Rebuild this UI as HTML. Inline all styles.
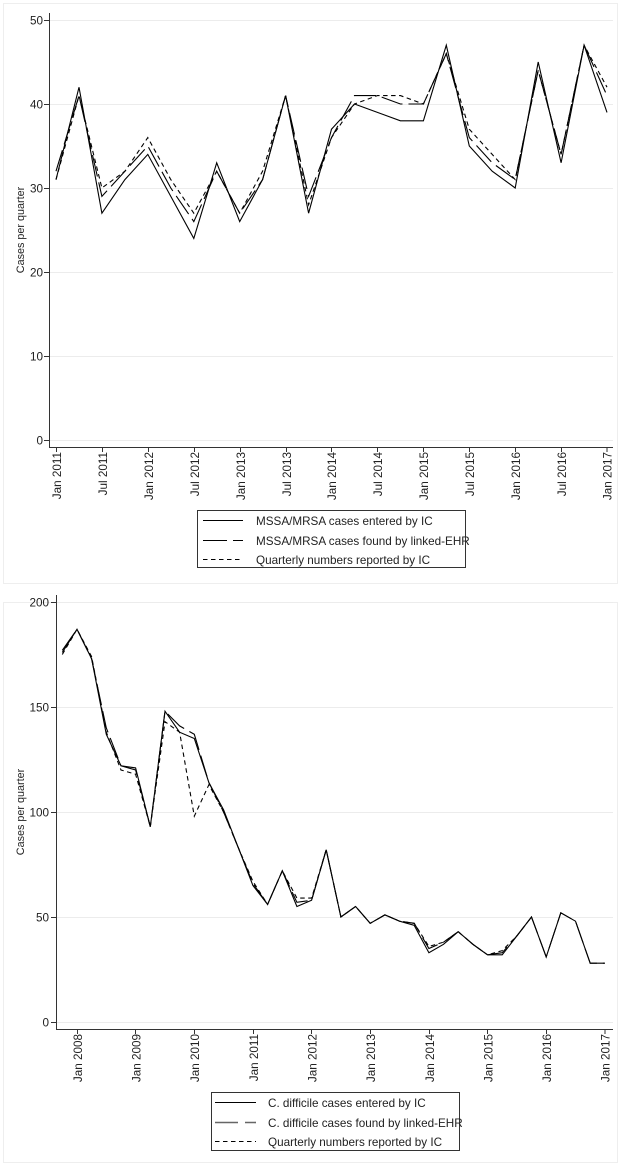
<!DOCTYPE html>
<html>
<head>
<meta charset="utf-8">
<style>
  html,body{margin:0;padding:0;background:#fff;}
  svg{display:block;}
  text{font-family:"Liberation Sans",Arial,sans-serif;fill:#222;}
</style>
</head>
<body>
<svg width="625" height="1167" viewBox="0 0 625 1167" xmlns="http://www.w3.org/2000/svg">
  <rect x="0" y="0" width="625" height="1167" fill="#fff"/>
  <!-- graph region outlines -->
  <rect x="3.5" y="3.5" width="614" height="580" fill="none" stroke="#eeeeee" stroke-width="1"/>
  <rect x="3.5" y="602.5" width="614" height="560" fill="none" stroke="#eeeeee" stroke-width="1"/>

  <!-- ================= TOP CHART ================= -->
  <g>
    <g stroke="#ececec" stroke-width="1">
      <line x1="49" y1="20.5" x2="613" y2="20.5"/>
      <line x1="49" y1="104.5" x2="613" y2="104.5"/>
      <line x1="49" y1="188.5" x2="613" y2="188.5"/>
      <line x1="49" y1="272.5" x2="613" y2="272.5"/>
      <line x1="49" y1="356.5" x2="613" y2="356.5"/>
      <line x1="49" y1="440.5" x2="613" y2="440.5"/>
    </g>
    <g stroke="#333" stroke-width="1">
      <line x1="49.5" y1="13" x2="49.5" y2="447.5"/>
      <line x1="49" y1="447.5" x2="613" y2="447.5"/>
      <line x1="44" y1="20.5" x2="49" y2="20.5"/>
      <line x1="44" y1="104.5" x2="49" y2="104.5"/>
      <line x1="44" y1="188.5" x2="49" y2="188.5"/>
      <line x1="44" y1="272.5" x2="49" y2="272.5"/>
      <line x1="44" y1="356.5" x2="49" y2="356.5"/>
      <line x1="44" y1="440.5" x2="49" y2="440.5"/>
      <line x1="56.5" y1="447" x2="56.5" y2="452"/>
      <line x1="102.5" y1="447" x2="102.5" y2="452"/>
      <line x1="148.5" y1="447" x2="148.5" y2="452"/>
      <line x1="194.5" y1="447" x2="194.5" y2="452"/>
      <line x1="240.5" y1="447" x2="240.5" y2="452"/>
      <line x1="286.5" y1="447" x2="286.5" y2="452"/>
      <line x1="331.5" y1="447" x2="331.5" y2="452"/>
      <line x1="377.5" y1="447" x2="377.5" y2="452"/>
      <line x1="423.5" y1="447" x2="423.5" y2="452"/>
      <line x1="469.5" y1="447" x2="469.5" y2="452"/>
      <line x1="515.5" y1="447" x2="515.5" y2="452"/>
      <line x1="561.5" y1="447" x2="561.5" y2="452"/>
      <line x1="607" y1="447" x2="607" y2="452"/>
    </g>
    <g font-size="11.7" text-anchor="end">
      <text x="43" y="24.7">50</text>
      <text x="43" y="108.7">40</text>
      <text x="43" y="192.7">30</text>
      <text x="43" y="276.7">20</text>
      <text x="43" y="360.7">10</text>
      <text x="43" y="444.7">0</text>
    </g>
    <text font-size="10.8" text-anchor="middle" transform="translate(24,230) rotate(-90)">Cases per quarter</text>
    <g font-size="11.7" text-anchor="end">
      <text transform="translate(61,452) rotate(-90)">Jan 2011</text>
      <text transform="translate(107,452) rotate(-90)">Jul 2011</text>
      <text transform="translate(153,452) rotate(-90)">Jan 2012</text>
      <text transform="translate(199,452) rotate(-90)">Jul 2012</text>
      <text transform="translate(245,452) rotate(-90)">Jan 2013</text>
      <text transform="translate(291,452) rotate(-90)">Jul 2013</text>
      <text transform="translate(336,452) rotate(-90)">Jan 2014</text>
      <text transform="translate(382,452) rotate(-90)">Jul 2014</text>
      <text transform="translate(428,452) rotate(-90)">Jan 2015</text>
      <text transform="translate(474,452) rotate(-90)">Jul 2015</text>
      <text transform="translate(520,452) rotate(-90)">Jan 2016</text>
      <text transform="translate(566,452) rotate(-90)">Jul 2016</text>
      <text transform="translate(611.5,452) rotate(-90)">Jan 2017</text>
    </g>
    <g fill="none" stroke="#000" stroke-width="1.1" stroke-linejoin="miter">
      <polyline points="56,179.6 79,87.2 101.9,213.2 124.9,179.6 147.8,154.4 170.8,196.4 193.8,238.4 216.7,162.8 239.7,221.6 262.6,179.6 285.6,95.6 308.6,213.2 331.5,129.2 354.5,104 377.4,112.4 400.4,120.8 423.4,120.8 446.3,45.2 469.3,146 492.2,171.2 515.2,188 538.2,62 561.1,162.8 584.1,45.2 607,112.4"/>
      <polyline stroke-dasharray="22 6" points="56,171.2 79,95.6 101.9,196.4 124.9,171.2 147.8,146 170.8,188 193.8,221.6 216.7,171.2 239.7,213.2 262.6,179.6 285.6,95.6 308.6,196.4 331.5,137.6 354.5,95.6 377.4,95.6 400.4,104 423.4,104 446.3,53.6 469.3,137.6 492.2,162.8 515.2,179.6 538.2,70.4 561.1,154.4 584.1,45.2 607,95.6"/>
      <polyline stroke-dasharray="4.5 3.5" points="56,179.6 79,95.6 101.9,188 124.9,171.2 147.8,137.6 170.8,179.6 193.8,213.2 216.7,171.2 239.7,213.2 262.6,171.2 285.6,95.6 308.6,204.8 331.5,137.6 354.5,104 377.4,95.6 400.4,95.6 423.4,104 446.3,53.6 469.3,129.2 492.2,154.4 515.2,179.6 538.2,70.4 561.1,154.4 584.1,45.2 607,87.2"/>
    </g>
    <rect x="197.5" y="510.5" width="268" height="57" fill="#fff" stroke="#333" stroke-width="1"/>
    <g stroke="#000" stroke-width="1.1">
      <line x1="203" y1="520.5" x2="243" y2="520.5"/>
      <line x1="203" y1="540.5" x2="243" y2="540.5" stroke-dasharray="24 6"/>
      <line x1="203" y1="559.5" x2="243" y2="559.5" stroke-dasharray="4.5 3.5"/>
    </g>
    <g font-size="11.7">
      <text x="256" y="524.8">MSSA/MRSA cases entered by IC</text>
      <text x="256" y="544.8">MSSA/MRSA cases found by linked-EHR</text>
      <text x="256" y="563.8">Quarterly numbers reported by IC</text>
    </g>
  </g>

  <!-- ================= BOTTOM CHART ================= -->
  <g>
    <g stroke="#ececec" stroke-width="1">
      <line x1="56" y1="602.5" x2="613" y2="602.5"/>
      <line x1="56" y1="707.5" x2="613" y2="707.5"/>
      <line x1="56" y1="812.5" x2="613" y2="812.5"/>
      <line x1="56" y1="917.5" x2="613" y2="917.5"/>
      <line x1="56" y1="1022.5" x2="613" y2="1022.5"/>
    </g>
    <g stroke="#333" stroke-width="1">
      <line x1="56.5" y1="595" x2="56.5" y2="1029.5"/>
      <line x1="56" y1="1029.5" x2="613" y2="1029.5"/>
      <line x1="51" y1="602.5" x2="56" y2="602.5"/>
      <line x1="51" y1="707.5" x2="56" y2="707.5"/>
      <line x1="51" y1="812.5" x2="56" y2="812.5"/>
      <line x1="51" y1="917.5" x2="56" y2="917.5"/>
      <line x1="51" y1="1022.5" x2="56" y2="1022.5"/>
      <line x1="77.5" y1="1029" x2="77.5" y2="1034"/>
      <line x1="135.5" y1="1029" x2="135.5" y2="1034"/>
      <line x1="194.5" y1="1029" x2="194.5" y2="1034"/>
      <line x1="253.5" y1="1029" x2="253.5" y2="1034"/>
      <line x1="311.5" y1="1029" x2="311.5" y2="1034"/>
      <line x1="370.5" y1="1029" x2="370.5" y2="1034"/>
      <line x1="429.5" y1="1029" x2="429.5" y2="1034"/>
      <line x1="487.5" y1="1029" x2="487.5" y2="1034"/>
      <line x1="546.5" y1="1029" x2="546.5" y2="1034"/>
      <line x1="605" y1="1029" x2="605" y2="1034"/>
    </g>
    <g font-size="11.7" text-anchor="end">
      <text x="49" y="606.7">200</text>
      <text x="49" y="711.7">150</text>
      <text x="49" y="816.7">100</text>
      <text x="49" y="921.7">50</text>
      <text x="49" y="1026.7">0</text>
    </g>
    <text font-size="10.8" text-anchor="middle" transform="translate(24,812) rotate(-90)">Cases per quarter</text>
    <g font-size="11.7" text-anchor="end">
      <text transform="translate(82,1034) rotate(-90)">Jan 2008</text>
      <text transform="translate(140.5,1034) rotate(-90)">Jan 2009</text>
      <text transform="translate(199,1034) rotate(-90)">Jan 2010</text>
      <text transform="translate(258,1034) rotate(-90)">Jan 2011</text>
      <text transform="translate(316.5,1034) rotate(-90)">Jan 2012</text>
      <text transform="translate(375,1034) rotate(-90)">Jan 2013</text>
      <text transform="translate(434,1034) rotate(-90)">Jan 2014</text>
      <text transform="translate(492.5,1034) rotate(-90)">Jan 2015</text>
      <text transform="translate(551,1034) rotate(-90)">Jan 2016</text>
      <text transform="translate(609.5,1034) rotate(-90)">Jan 2017</text>
    </g>
    <g fill="none" stroke="#000" stroke-width="1.1" stroke-linejoin="miter">
      <polyline points="62.3,652.4 77,629.3 91.6,658.7 106.3,734.3 121,765.8 135.6,767.9 150.3,826.7 165,711.2 179.6,732.2 194.3,738.5 208.9,782.6 223.6,809.9 238.3,847.7 252.9,885.5 267.6,904.4 282.3,870.8 296.9,906.5 311.6,900.2 326.2,849.8 340.9,917 355.6,906.5 370.2,923.3 384.9,914.9 399.6,921.2 414.2,925.4 428.9,952.7 443.5,944.3 458.2,931.7 472.9,944.3 487.5,954.8 502.2,954.8 516.9,935.9 531.5,917 546.2,956.9 560.8,912.8 575.5,921.2 590.2,963.2 604.8,963.2"/>
      <polyline stroke-dasharray="22 6" points="62.3,650.3 77,629.3 91.6,658.7 106.3,728 121,765.8 135.6,770 150.3,826.7 165,711.2 179.6,725.9 194.3,734.3 208.9,782.6 223.6,812 238.3,847.7 252.9,883.4 267.6,904.4 282.3,870.8 296.9,902.3 311.6,900.2 326.2,849.8 340.9,917 355.6,906.5 370.2,923.3 384.9,914.9 399.6,921.2 414.2,923.3 428.9,948.5 443.5,942.2 458.2,931.7 472.9,944.3 487.5,954.8 502.2,952.7 516.9,935.9 531.5,917 546.2,956.9 560.8,912.8 575.5,921.2 590.2,963.2 604.8,963.2"/>
      <polyline stroke-dasharray="4.5 3.5" points="62.3,654.5 77,629.3 91.6,656.6 106.3,732.2 121,770 135.6,774.2 150.3,826.7 165,721.7 179.6,732.2 194.3,816.2 208.9,784.7 223.6,812 238.3,847.7 252.9,881.3 267.6,904.4 282.3,870.8 296.9,898.1 311.6,898.1 326.2,849.8 340.9,917 355.6,906.5 370.2,923.3 384.9,914.9 399.6,921.2 414.2,923.3 428.9,946.4 443.5,942.2 458.2,931.7 472.9,944.3 487.5,954.8 502.2,950.6 516.9,935.9 531.5,917"/>
    </g>
    <rect x="211.5" y="1092.5" width="248" height="58" fill="#fff" stroke="#333" stroke-width="1"/>
    <g stroke-width="1.1">
      <line x1="215" y1="1102.5" x2="256" y2="1102.5" stroke="#000"/>
      <line x1="215" y1="1122.5" x2="256" y2="1122.5" stroke="#666" stroke-width="1.6" stroke-dasharray="23 7"/>
      <line x1="215" y1="1141.5" x2="256" y2="1141.5" stroke="#000" stroke-dasharray="4.5 3.5"/>
    </g>
    <g font-size="11.7">
      <text x="268" y="1106.8">C. difficile cases entered by IC</text>
      <text x="268" y="1126.8">C. difficile cases found by linked-EHR</text>
      <text x="268" y="1145.8">Quarterly numbers reported by IC</text>
    </g>
  </g>
</svg>
</body>
</html>
